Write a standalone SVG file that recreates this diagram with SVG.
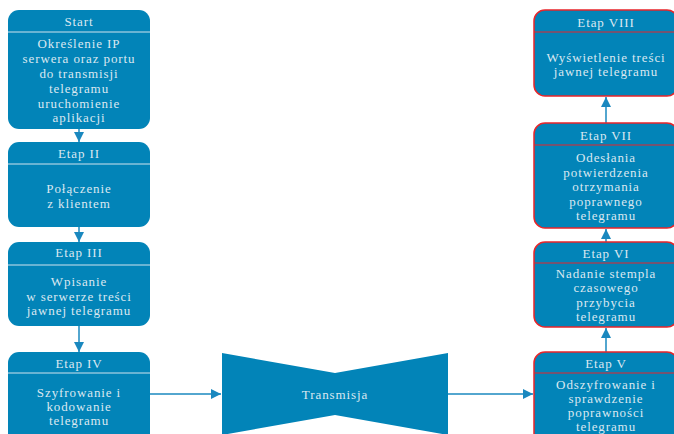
<svg xmlns="http://www.w3.org/2000/svg" width="674" height="434" viewBox="0 0 674 434">
<defs>
<marker id="ah" viewBox="0 0 10 10" refX="10" refY="5" markerWidth="10" markerHeight="10" markerUnits="userSpaceOnUse" orient="auto">
<path d="M0,0 L10,5 L0,10 z" fill="#1a88bf"/>
</marker>
<style>
.box{fill:#0284b8;}
.rbox{fill:#0284b8;stroke:#e8252a;stroke-width:1.5;}
.div{stroke:#cfe3ee;stroke-width:1;}
.rdiv{stroke:#e8252a;stroke-width:1.2;}
.t{font-family:"Liberation Serif","Times New Roman",serif;font-size:13px;fill:#dbe8f1;text-anchor:middle;letter-spacing:0.9px;}
.c{stroke:#1a88bf;stroke-width:1.5;fill:none;marker-end:url(#ah);}
</style>
</defs>
<rect width="674" height="434" fill="#ffffff"/>
<g id="connectors">
<line class="c" x1="79" y1="129" x2="79" y2="142"/>
<line class="c" x1="79" y1="227" x2="79" y2="242"/>
<line class="c" x1="79" y1="326" x2="79" y2="352"/>
<line class="c" x1="150" y1="394" x2="221" y2="394"/>
<line class="c" x1="448" y1="394" x2="533" y2="394"/>
<line class="c" x1="606" y1="352" x2="606" y2="328"/>
<line class="c" x1="606" y1="242" x2="606" y2="229"/>
<line class="c" x1="606" y1="123" x2="606" y2="97"/>
</g>
<g id="start">
<rect class="box" x="8" y="10" width="142" height="119" rx="11"/>
<line class="div" x1="8" y1="32" x2="150" y2="32"/>
<text class="t" x="79" y="26">Start</text>
<text class="t" x="79" y="48">Określenie IP</text>
<text class="t" x="79" y="63">serwera oraz portu</text>
<text class="t" x="79" y="78">do transmisji</text>
<text class="t" x="79" y="93">telegramu</text>
<text class="t" x="79" y="108">uruchomienie</text>
<text class="t" x="79" y="122">aplikacji</text>
</g>
<g id="etap2">
<rect class="box" x="8" y="142" width="142" height="85" rx="11"/>
<line class="div" x1="8" y1="164" x2="150" y2="164"/>
<text class="t" x="79" y="158">Etap II</text>
<text class="t" x="79" y="193">Połączenie</text>
<text class="t" x="79" y="208">z klientem</text>
</g>
<g id="etap3">
<rect class="box" x="8" y="242" width="142" height="84" rx="11"/>
<line class="div" x1="8" y1="265" x2="150" y2="265"/>
<text class="t" x="79" y="257">Etap III</text>
<text class="t" x="79" y="286">Wpisanie</text>
<text class="t" x="79" y="301">w serwerze treści</text>
<text class="t" x="79" y="315">jawnej telegramu</text>
</g>
<g id="etap4">
<rect class="box" x="8" y="352" width="142" height="92" rx="11"/>
<line class="div" x1="8" y1="373" x2="150" y2="373"/>
<text class="t" x="79" y="368">Etap IV</text>
<text class="t" x="79" y="397">Szyfrowanie i</text>
<text class="t" x="79" y="411">kodowanie</text>
<text class="t" x="79" y="425">telegramu</text>
</g>
<g id="transmisja">
<path d="M222,353 L335,373 L448,353 L448,435 L335,415 L222,435 Z" fill="#0284b8"/>
<text class="t" x="335" y="399">Transmisja</text>
</g>
<g id="etap5">
<rect class="rbox" x="534" y="352" width="144" height="92" rx="11"/>
<line class="rdiv" x1="534" y1="373" x2="678" y2="373"/>
<text class="t" x="606" y="368">Etap V</text>
<text class="t" x="606" y="389">Odszyfrowanie i</text>
<text class="t" x="606" y="403">sprawdzenie</text>
<text class="t" x="606" y="417">poprawności</text>
<text class="t" x="606" y="431">telegramu</text>
</g>
<g id="etap6">
<rect class="rbox" x="534" y="242" width="144" height="85" rx="11"/>
<line class="rdiv" x1="534" y1="263" x2="678" y2="263"/>
<text class="t" x="606" y="258">Etap VI</text>
<text class="t" x="606" y="278">Nadanie stempla</text>
<text class="t" x="606" y="292">czasowego</text>
<text class="t" x="606" y="307">przybycia</text>
<text class="t" x="606" y="321">telegramu</text>
</g>
<g id="etap7">
<rect class="rbox" x="534" y="123" width="144" height="105" rx="11"/>
<line class="rdiv" x1="534" y1="145" x2="678" y2="145"/>
<text class="t" x="606" y="140">Etap VII</text>
<text class="t" x="606" y="162">Odesłania</text>
<text class="t" x="606" y="177">potwierdzenia</text>
<text class="t" x="606" y="191">otrzymania</text>
<text class="t" x="606" y="206">poprawnego</text>
<text class="t" x="606" y="220">telegramu</text>
</g>
<g id="etap8">
<rect class="rbox" x="534" y="10" width="144" height="86" rx="11"/>
<line class="rdiv" x1="534" y1="32" x2="678" y2="32"/>
<text class="t" x="606" y="27">Etap VIII</text>
<text class="t" x="606" y="62">Wyświetlenie treści</text>
<text class="t" x="606" y="76">jawnej telegramu</text>
</g>
</svg>
